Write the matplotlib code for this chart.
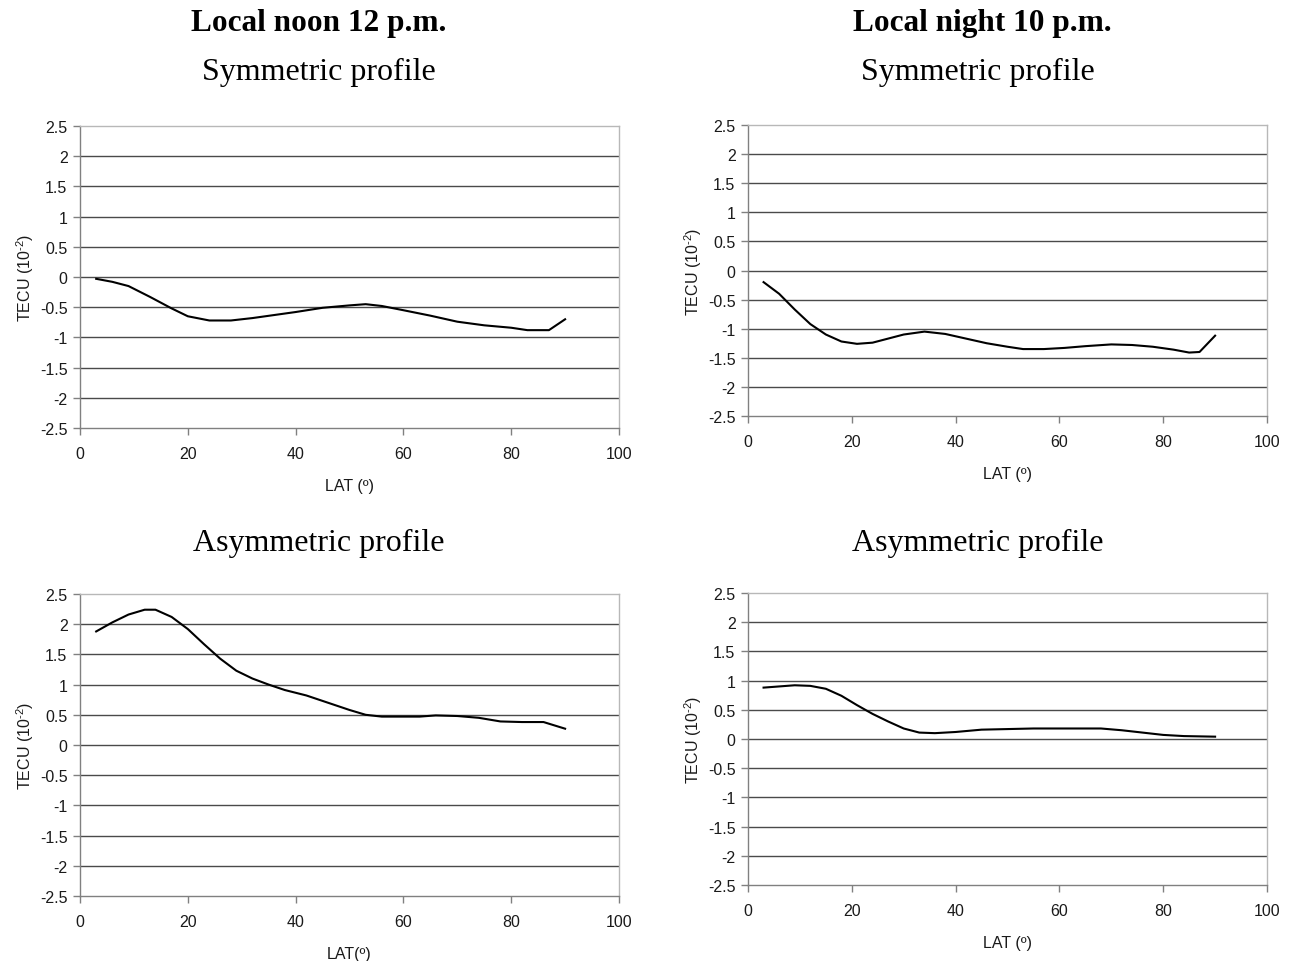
import matplotlib
matplotlib.use("Agg")
import matplotlib.pyplot as plt
import numpy as np

# ---- data ----
lat_noon_sym = [3, 6, 9, 13, 17, 20, 24, 28, 32, 36, 40, 45, 50, 53, 56, 60, 65, 70, 75, 80, 83, 87, 90]
tec_noon_sym = [-0.03, -0.08, -0.15, -0.33, -0.52, -0.65, -0.72, -0.72, -0.68, -0.63, -0.58, -0.51,
                -0.47, -0.45, -0.48, -0.55, -0.64, -0.74, -0.80, -0.84, -0.88, -0.88, -0.70]

lat_night_sym = [3, 6, 9, 12, 15, 18, 21, 24, 27, 30, 34, 38, 42, 46, 50, 53, 57, 61, 65, 70, 74, 78, 82, 85, 87, 90]
tec_night_sym = [-0.20, -0.40, -0.67, -0.92, -1.10, -1.22, -1.26, -1.24, -1.17, -1.10, -1.05, -1.09, -1.17,
                 -1.25, -1.31, -1.35, -1.35, -1.33, -1.30, -1.27, -1.28, -1.31, -1.36, -1.41, -1.40, -1.12]

lat_noon_asym = [3, 6, 9, 12, 14, 17, 20, 23, 26, 29, 32, 35, 38, 42, 46, 50, 53, 56, 60, 63, 66, 70, 74, 78, 82, 86, 90]
tec_noon_asym = [1.88, 2.03, 2.16, 2.24, 2.24, 2.12, 1.92, 1.67, 1.43, 1.23, 1.10, 1.00, 0.91, 0.82, 0.70,
                 0.58, 0.50, 0.47, 0.47, 0.47, 0.49, 0.48, 0.45, 0.39, 0.38, 0.38, 0.27]

lat_night_asym = [3, 6, 9, 12, 15, 18, 21, 24, 27, 30, 33, 36, 40, 45, 50, 55, 60, 65, 68, 72, 76, 80, 84, 90]
tec_night_asym = [0.88, 0.90, 0.92, 0.91, 0.86, 0.74, 0.58, 0.43, 0.30, 0.18, 0.11, 0.10, 0.12, 0.16,
                  0.17, 0.18, 0.18, 0.18, 0.18, 0.15, 0.11, 0.07, 0.05, 0.04]

x_ticks = [0, 20, 40, 60, 80, 100]
y_ticks = [-2.5, -2, -1.5, -1, -0.5, 0, 0.5, 1, 1.5, 2, 2.5]
y_tick_labels = ["-2.5", "-2", "-1.5", "-1", "-0.5", "0", "0.5", "1", "1.5", "2", "2.5"]

W, H = 1292, 962
fig = plt.figure(figsize=(W / 100, H / 100), dpi=100)
fig.patch.set_facecolor("white")

def ax_rect(l, r, t, b):
    return [l / W, 1 - b / H, (r - l) / W, (b - t) / H]

panels = [
    (ax_rect(80, 619, 127, 429), lat_noon_sym, tec_noon_sym, "LAT (º)"),
    (ax_rect(748, 1267, 126, 417), lat_night_sym, tec_night_sym, "LAT (º)"),
    (ax_rect(80, 619, 595, 897), lat_noon_asym, tec_noon_asym, "LAT(º)"),
    (ax_rect(748, 1267, 594, 886), lat_night_asym, tec_night_asym, "LAT (º)"),
]

sans = ["Liberation Sans", "DejaVu Sans"]
serif = ["Liberation Serif", "DejaVu Serif"]
plt.rcParams["mathtext.fontset"] = "custom"
plt.rcParams["mathtext.rm"] = "Liberation Sans"

for rect, xs, ys, xlabel in panels:
    ax = fig.add_axes(rect)
    ax.set_xlim(0, 100)
    ax.set_ylim(-2.5, 2.5)
    ax.set_xticks(x_ticks)
    ax.set_yticks(y_ticks)
    ax.set_yticklabels(y_tick_labels)
    for yv in y_ticks[1:-1]:
        ax.axhline(yv, color="#4a4a4a", lw=1.0, zorder=1)
    ax.plot(xs, ys, color="black", lw=1.5, zorder=3, solid_joinstyle="round")
    for s in ["left", "bottom"]:
        ax.spines[s].set_color("#808080")
        ax.spines[s].set_linewidth(1.0)
    for s in ["top", "right"]:
        ax.spines[s].set_color("#b8b8b8")
        ax.spines[s].set_linewidth(1.0)
    ax.tick_params(axis="both", direction="out", length=5, width=1.0, color="#808080",
                   labelsize=11.5, labelcolor="#1a1a1a")
    ax.tick_params(axis="x", pad=8)
    ax.tick_params(axis="y", pad=4)
    for lab in ax.get_xticklabels() + ax.get_yticklabels():
        lab.set_family(sans)
    ax.set_xlabel(xlabel, fontsize=11.5, family=sans, color="#1a1a1a", labelpad=12)
    ax.set_ylabel("TECU (10$^{\\mathrm{\u2010}2}$)", fontsize=11.5, family=sans, color="#1a1a1a", labelpad=3)

# titles
fig.text(319 / W, 1 - 24 / H, "Local noon 12 p.m.", ha="center", va="center",
         fontsize=22.5, fontweight="bold", family=serif)
fig.text(982 / W, 1 - 24 / H, "Local night 10 p.m.", ha="center", va="center",
         fontsize=22.5, fontweight="bold", family=serif)
fig.text(319 / W, 1 - 72 / H, "Symmetric profile", ha="center", va="center",
         fontsize=23, family=serif)
fig.text(978 / W, 1 - 72 / H, "Symmetric profile", ha="center", va="center",
         fontsize=23, family=serif)
fig.text(319 / W, 1 - 543 / H, "Asymmetric profile", ha="center", va="center",
         fontsize=23, family=serif)
fig.text(978 / W, 1 - 543 / H, "Asymmetric profile", ha="center", va="center",
         fontsize=23, family=serif)

fig.savefig("out.png", dpi=100, facecolor="white")
